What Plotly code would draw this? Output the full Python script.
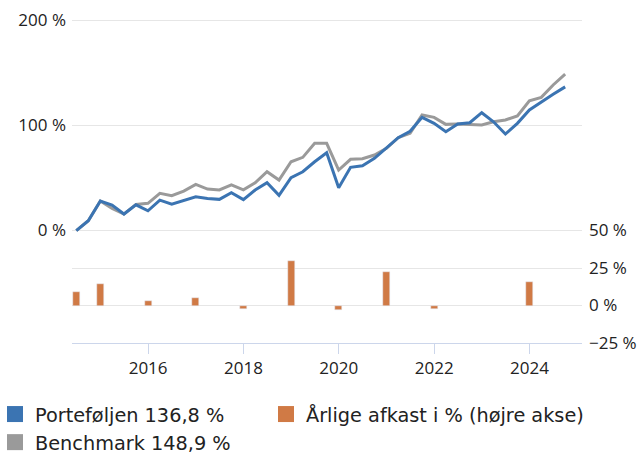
import plotly.graph_objects as go

dates = [
    "2014-06-30", "2014-09-30", "2014-12-31", "2015-03-31", "2015-06-30", "2015-09-30",
    "2015-12-31", "2016-03-31", "2016-06-30", "2016-09-30", "2016-12-31", "2017-03-31",
    "2017-06-30", "2017-09-30", "2017-12-31", "2018-03-31", "2018-06-30", "2018-09-30",
    "2018-12-31", "2019-03-31", "2019-06-30", "2019-09-30", "2019-12-31", "2020-03-31",
    "2020-06-30", "2020-09-30", "2020-12-31", "2021-03-31", "2021-06-30", "2021-09-30",
    "2021-12-31", "2022-03-31", "2022-06-30", "2022-09-30", "2022-12-31", "2023-03-31",
    "2023-06-30", "2023-09-30", "2023-12-31", "2024-03-31", "2024-06-30", "2024-09-30",
]
portfolio = [
    0, 9.3, 28.1, 24.2, 15.7, 24.5, 18.8, 29.0, 25.2, 28.7, 32.2, 30.6, 29.7, 36.0,
    29.4, 38.6, 45.5, 33.5, 50.3, 56.0, 65.5, 74.1, 40.8, 60.2, 61.7, 68.8, 78.3, 88.4,
    94.5, 107.8, 102.1, 94.1, 101.4, 102.7, 112.2, 103.6, 91.9, 102.1, 114.8, 122.6,
    129.7, 136.8,
]
benchmark = [
    0, 9.3, 28.1, 21.1, 15.7, 24.9, 25.9, 35.4, 33.2, 37.6, 43.9, 39.5, 38.6, 43.4,
    38.8, 45.5, 56.0, 48.1, 65.5, 69.7, 83.1, 83.1, 57.6, 67.8, 68.4, 71.9, 78.3, 88.4,
    92.6, 110.0, 107.8, 101.1, 101.4, 101.1, 100.5, 103.6, 105.3, 109.1, 123.6, 126.8,
    138.6, 148.9,
]
bar_dates = ["2014-07-01", "2015-01-01", "2016-01-01", "2017-01-01", "2018-01-01",
             "2019-01-01", "2020-01-01", "2021-01-01", "2022-01-01", "2024-01-01"]
annual = [9.1, 14.4, 3.1, 5.1, -2.2, 29.6, -2.9, 22.5, -2.6, 15.9]

names = ["Porteføljen 136,8 %", "Årlige afkast i % (højre akse)", "Benchmark 148,9 %"]
left_ticks = [0, 100, 200]
left_text = ["0 %", "100 %", "200 %"]
right_ticks = [-25, 0, 25, 50]
right_text = ["\u221225 %", "0 %", "25 %", "50 %"]
x_ticks = ["2016-01-01", "2018-01-01", "2020-01-01", "2022-01-01", "2024-01-01"]
x_text = ["2016", "2018", "2020", "2022", "2024"]

BLUE = "#3b74b2"
GRAY = "#9a9a9a"
ORANGE = "#d07a45"
GRID = "#e6e6e6"
TXT = "#222222"

fig = go.Figure()
fig.add_trace(go.Bar(x=bar_dates, y=annual, yaxis="y2", marker_color=ORANGE,
                     width=4.6e9, showlegend=False, hoverinfo="x+y"))
fig.add_trace(go.Scatter(x=dates, y=benchmark, mode="lines",
                         line=dict(color=GRAY, width=3), showlegend=False))
fig.add_trace(go.Scatter(x=dates, y=portfolio, mode="lines",
                         line=dict(color=BLUE, width=3), showlegend=False))

# legend entries (square symbols)
for nm, col, lg in zip(names, [BLUE, ORANGE, GRAY], ["legend", "legend2", "legend"]):
    fig.add_trace(go.Scatter(x=[None], y=[None], mode="markers", name=nm, legend=lg,
                             marker=dict(symbol="square", size=16, color=col)))

legend_common = dict(
    orientation="v", xref="paper", yref="paper",
    y=(343 - 395) / 325, xanchor="left", yanchor="top",
    font=dict(family="DejaVu Sans", size=19.3, color=TXT),
    indentation=-5, itemsizing="trace", traceorder="normal",
    bgcolor="rgba(0,0,0,0)", tracegroupgap=0,
)

fig.update_layout(
    width=640, height=454,
    margin=dict(l=72, r=58, t=18, b=111, autoexpand=False),
    plot_bgcolor="white", paper_bgcolor="white",
    bargap=0,
    xaxis=dict(
        type="date", range=["2014-05-28", "2025-02-06"],
        tickvals=x_ticks, ticktext=x_text,
        showgrid=False, showline=True, linecolor="#ccd6eb", linewidth=1,
        ticks="outside", ticklen=10, tickcolor="#ccd6eb", tickwidth=1,
        tickfont=dict(family="Open Sans", size=17, color=TXT),
        zeroline=False,
    ),
    yaxis=dict(
        range=[-107.1, 202.4], tickvals=left_ticks, ticktext=left_text,
        showgrid=True, gridcolor=GRID, gridwidth=1, zeroline=False,
        tickfont=dict(family="Open Sans", size=17, color=TXT),
        ticklabelstandoff=5,
    ),
    yaxis2=dict(
        range=[-25, 191.7], tickvals=right_ticks, ticktext=right_text,
        overlaying="y", side="right",
        showgrid=True, gridcolor=GRID, gridwidth=1, zeroline=False,
        tickfont=dict(family="Open Sans", size=17, color=TXT),
        ticklabelstandoff=6,
    ),
    legend=dict(x=-72 / 510, **legend_common),
    legend2=dict(x=(271 - 72) / 510, **legend_common),
)

fig.write_html("out.html", config={"displayModeBar": False},
               post_script="document.body.style.margin='0';")
